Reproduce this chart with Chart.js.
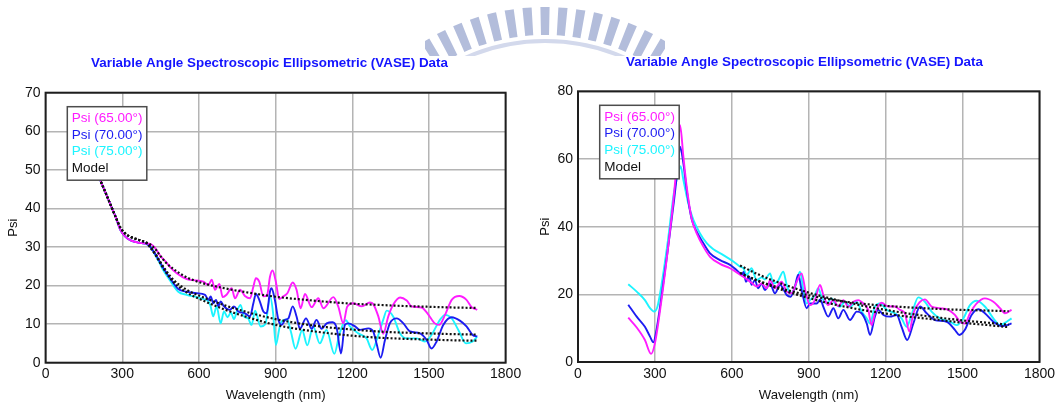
<!DOCTYPE html>
<html>
<head>
<meta charset="utf-8">
<script src="https://cdn.jsdelivr.net/npm/chart.js@4.4.1/dist/chart.umd.min.js"></script>
<style>
  html, body { margin: 0; padding: 0; background: #fff; }
  #page { position: relative; width: 1060px; height: 408px; overflow: hidden; }
  #page canvas { position: absolute; top: 0; }
</style>
</head>
<body>
<div id="page">
  <canvas id="seal" width="1060" height="408" style="left:0"></canvas>
  <canvas id="vaseA" width="530" height="408" style="left:0"></canvas>
  <canvas id="vaseB" width="530" height="408" style="left:530px"></canvas>
</div>
<script>
// ---- axis ticks ----
const wavelengthTicks = [0, 300, 600, 900, 1200, 1500, 1800];
const psiTicksA = [0, 10, 20, 30, 40, 50, 60, 70];
const psiTicksB = [0, 20, 40, 60, 80];

const seriesNames = ['Psi (65.00°)', 'Psi (70.00°)', 'Psi (75.00°)', 'Model'];

// ---- sample A: Psi vs wavelength (nm) ----
// below ~390 nm the three angles sit on top of each other
const aStartWl  = [200, 214, 230, 247, 260, 274, 293, 313, 333, 353, 375, 392];
const aStartPsi = [49.8, 47.3, 44.8, 42.1, 40.0, 37.8, 34.4, 32.6, 31.7, 31.3, 31.0, 30.9];

const a65Wl = aStartWl.concat([410, 430, 450, 470, 487, 513, 552, 591, 617, 637, 650, 663, 680, 693, 708, 728, 741, 761, 780, 800,
  813, 823, 836, 852, 867, 878, 888, 901, 914, 930, 946, 967, 982, 998, 1015, 1041, 1067, 1087, 1126, 1145,
  1165, 1180, 1204, 1237, 1269, 1282, 1302, 1321, 1341, 1360, 1387, 1413, 1432, 1471, 1494, 1523, 1540, 1563, 1589, 1619,
  1647, 1667, 1689]);
const a65Psi = aStartPsi.concat([30.8, 29.6, 27.6, 26.2, 24.8, 23.2, 21.7, 21.3, 21.0, 20.2, 21.5, 18.9, 20.4, 17.0, 17.6, 19.3, 16.7, 18.9, 17.3, 16.7,
  19.7, 21.9, 21.0, 17.2, 17.6, 22.3, 23.9, 21.0, 16.5, 17.2, 18.0, 20.8, 18.9, 14.1, 17.8, 14.4, 16.7, 14.1, 17.0, 14.6,
  10.2, 14.5, 15.4, 14.6, 15.6, 15.2, 12.0, 7.5, 12.0, 15.0, 16.9, 16.1, 14.6, 14.3, 12.8, 10.2, 9.8, 12.4, 16.3, 17.3,
  16.3, 14.4, 13.7]);

const a70Wl = aStartWl.concat([410, 425, 445, 460, 487, 519, 552, 591, 624, 637, 646, 656, 667, 676, 685, 698, 721, 737, 754, 780,
  800, 813, 823, 836, 852, 865, 878, 884, 897, 911, 924, 937, 950, 967, 982, 995, 1019, 1041, 1060, 1080,
  1100, 1123, 1139, 1156, 1171, 1184, 1211, 1230, 1263, 1282, 1295, 1311, 1328, 1347, 1374, 1400, 1426, 1465, 1491, 1510,
  1530, 1556, 1589, 1621, 1647, 1671, 1689]);
const a70Psi = aStartPsi.concat([30.0, 28.6, 26.4, 24.6, 21.9, 19.1, 18.4, 18.0, 17.6, 16.3, 17.2, 15.4, 16.3, 14.6, 15.9, 14.6, 13.7, 14.6, 13.3, 12.8,
  12.0, 15.4, 17.8, 16.3, 13.3, 12.8, 18.4, 19.3, 16.3, 11.1, 9.8, 11.1, 11.5, 14.6, 12.0, 8.8, 11.5, 8.8, 11.1, 8.8,
  10.2, 10.5, 9.0, 2.4, 9.8, 10.2, 9.4, 8.5, 8.9, 8.1, 5.0, 1.3, 5.9, 10.2, 11.5, 10.2, 8.1, 7.6, 5.9, 3.7,
  5.5, 9.8, 11.8, 10.9, 9.4, 7.2, 6.8]);

const a75Wl = aStartWl.concat([410, 425, 445, 460, 487, 519, 552, 591, 617, 637, 645, 656, 669, 685, 698, 712, 725, 737, 750, 763,
  776, 792, 806, 820, 841, 860, 879, 890, 901, 915, 924, 945, 960, 978, 1004, 1024, 1047, 1073, 1099, 1130,
  1150, 1175, 1191, 1224, 1256, 1278, 1302, 1321, 1335, 1360, 1387, 1413, 1452, 1484, 1510, 1543, 1563, 1589, 1615, 1645,
  1671, 1689]);
const a75Psi = aStartPsi.concat([30.0, 28.4, 26.0, 24.0, 21.3, 18.4, 17.6, 17.0, 16.5, 15.9, 14.8, 12.0, 14.6, 10.2, 13.3, 11.8, 13.0, 11.3, 13.6, 15.0,
  12.0, 11.5, 9.8, 13.5, 9.4, 10.0, 17.0, 13.0, 4.6, 9.0, 10.7, 11.2, 8.0, 3.6, 8.4, 4.5, 9.4, 5.0, 8.5, 2.3,
  7.5, 11.0, 9.4, 7.6, 6.3, 3.3, 7.2, 11.1, 13.5, 12.0, 7.6, 6.3, 6.3, 5.5, 7.2, 11.1, 12.4, 11.5, 8.5, 5.0,
  5.5, 6.8]);

const aModelWl = aStartWl.concat([410, 430, 450, 470, 500, 550, 600, 700, 800, 900, 1000, 1100, 1200, 1300, 1400, 1500, 1600, 1690]);
const aModelStart = [49.8, 47.3, 44.8, 42.1, 40.0, 37.8, 35.0, 33.4, 32.6, 32.1, 31.6, 31.2];
const aModel65 = aModelStart.concat([30.6, 29.4, 27.6, 26.0, 24.3, 22.2, 20.9, 19.3, 18.1, 17.1, 16.4, 15.8, 15.3, 15.0, 14.7, 14.5, 14.3, 14.2]);
const aModel70 = aModelStart.concat([30.0, 28.2, 26.0, 24.0, 21.5, 19.0, 17.4, 14.9, 12.9, 11.3, 10.1, 9.2, 8.6, 8.1, 7.8, 7.6, 7.4, 7.3]);
const aModel75 = aModelStart.concat([29.8, 27.9, 25.6, 23.5, 20.9, 18.3, 16.6, 13.8, 11.6, 9.8, 8.6, 7.7, 7.0, 6.5, 6.2, 6.0, 5.8, 5.7]);

// ---- sample B: Psi vs wavelength (nm) ----
const b65Wl = [196, 229, 261, 285, 300, 325, 350, 375, 390, 398, 411, 424, 443, 463, 489, 515, 554, 593, 625, 645,
  677, 697, 716, 736, 749, 768, 794, 814, 833, 853, 872, 889, 905, 924, 944, 957, 976, 996, 1015, 1035,
  1054, 1074, 1093, 1113, 1132, 1145, 1158, 1184, 1210, 1236, 1256, 1275, 1292, 1308, 1334, 1353, 1379, 1412, 1444, 1470,
  1490, 1509, 1529, 1555, 1587, 1620, 1646, 1665, 1691];
const b65Psi = [13.1, 10.2, 6.5, 2.4, 5.5, 18.0, 33.0, 50.0, 63.0, 70.0, 60.7, 51.8, 42.5, 38.0, 34.1, 31.1, 29.0, 27.7, 26.2, 25.2,
  23.4, 22.3, 23.2, 21.8, 24.2, 21.8, 23.7, 20.8, 20.3, 23.7, 26.2, 20.3, 16.8, 18.3, 22.8, 19.8, 16.8, 18.3, 16.5, 18.3,
  16.3, 17.8, 18.3, 17.3, 15.4, 10.9, 14.4, 17.5, 16.4, 16.4, 15.4, 14.4, 9.0, 14.4, 17.8, 18.5, 16.4, 15.9, 15.4, 13.9,
  11.9, 11.4, 14.4, 17.3, 18.8, 17.8, 15.9, 14.4, 15.4];

const b70Wl = [196, 229, 261, 281, 294, 305, 325, 350, 375, 390, 398, 411, 424, 443, 463, 489, 515, 554, 593, 625,
  638, 646, 655, 668, 677, 690, 703, 716, 729, 749, 768, 788, 814, 829, 846, 859, 872, 892, 905, 931,
  945, 957, 976, 996, 1015, 1035, 1061, 1087, 1106, 1126, 1139, 1158, 1171, 1191, 1217, 1243, 1262, 1284, 1308, 1334,
  1360, 1392, 1438, 1470, 1487, 1509, 1535, 1561, 1587, 1620, 1652, 1672, 1691];
const b70Psi = [16.9, 13.4, 10.4, 7.5, 5.8, 9.0, 19.0, 33.0, 48.0, 58.0, 63.6, 58.7, 50.8, 42.3, 38.5, 35.1, 32.1, 30.1, 28.7, 26.7,
  25.7, 26.6, 23.7, 25.2, 22.8, 24.2, 21.8, 23.2, 21.3, 23.2, 20.3, 22.8, 19.8, 19.3, 22.3, 25.8, 21.3, 15.9, 17.3, 17.3,
  18.5, 16.3, 13.4, 15.9, 12.9, 15.4, 12.4, 14.9, 14.4, 11.4, 8.0, 13.4, 15.4, 13.9, 13.4, 13.9, 10.4, 6.5, 11.4, 16.4,
  14.4, 12.4, 11.9, 9.5, 8.0, 9.5, 13.9, 15.6, 14.4, 11.9, 10.6, 10.9, 11.4];

const b75Wl = [196, 229, 261, 281, 297, 310, 325, 350, 375, 390, 400, 411, 430, 450, 476, 502, 528, 567, 606, 632,
  645, 658, 677, 697, 716, 729, 749, 762, 780, 801, 814, 829, 846, 866, 879, 892, 905, 924, 937, 950,
  970, 989, 1002, 1022, 1041, 1061, 1087, 1106, 1126, 1139, 1158, 1178, 1204, 1236, 1262, 1282, 1301, 1327, 1353, 1379,
  1412, 1451, 1477, 1503, 1529, 1555, 1587, 1620, 1646, 1672, 1691];
const b75Psi = [23.0, 20.8, 18.3, 15.9, 14.9, 16.4, 22.5, 35.5, 50.5, 55.5, 57.9, 53.8, 46.9, 42.0, 38.0, 35.1, 33.3, 31.6, 29.7, 28.2,
  27.7, 25.7, 27.7, 24.2, 25.0, 24.4, 26.2, 23.2, 24.0, 26.7, 22.8, 20.3, 22.0, 26.7, 21.3, 17.3, 18.3, 19.8, 21.8, 19.3,
  17.3, 18.8, 17.3, 16.3, 17.8, 16.3, 17.8, 14.9, 12.9, 11.4, 16.4, 17.3, 15.4, 14.4, 12.9, 10.4, 13.9, 19.1, 17.8, 14.9,
  12.9, 11.9, 10.9, 12.9, 16.8, 18.1, 16.4, 12.9, 10.9, 11.9, 12.9];

const bModelWl = [632, 700, 800, 900, 1000, 1100, 1200, 1300, 1400, 1500, 1600, 1680];
const bModel65 = [26.3, 24.1, 21.6, 19.7, 18.3, 17.3, 16.6, 16.1, 15.7, 15.4, 15.2, 15.0];
const bModel70 = [26.3, 24.0, 21.2, 18.9, 17.0, 15.5, 14.3, 13.3, 12.5, 11.6, 10.9, 10.3];
const bModel75 = [28.5, 26.0, 23.0, 20.5, 18.5, 16.8, 15.4, 14.2, 13.2, 12.3, 11.6, 11.0];

// ---- styling ----
const FONT = '"Liberation Sans", Arial, sans-serif';
const W = 530, H = 408;
const TITLE_SIZE = 13.4;
const colors = { m65: '#ff1cff', m70: '#1c1cf2', m75: '#1cf4ff', model: '#111111' };
Chart.defaults.font.family = FONT;

function trace(label, color, wl, psi, dotted) {
  return {
    label: label,
    data: wl.map(function (x, i) { return { x: x, y: psi[i] }; }),
    borderColor: color,
    borderWidth: dotted ? 2.2 : 1.9,
    borderDash: dotted ? [2, 2] : [],
    pointRadius: 0,
    cubicInterpolationMode: 'monotone',
    fill: false,
    order: dotted ? 0 : 1
  };
}

// black box round the plotting area
const plotFrame = {
  id: 'plotFrame',
  afterDatasetsDraw(chart) {
    const a = chart.chartArea, ctx = chart.ctx;
    ctx.save();
    ctx.strokeStyle = '#1e1e1e';
    ctx.lineWidth = 2;
    ctx.strokeRect(a.left, a.top, a.right - a.left, a.bottom - a.top);
    ctx.restore();
  }
};

// boxed key in the upper left corner, one line per distinct label
const seriesKey = {
  id: 'seriesKey',
  afterDraw(chart) {
    const ctx = chart.ctx, a = chart.chartArea;
    const entries = [];
    chart.data.datasets.forEach(function (ds) {
      if (!entries.some(function (e) { return e.text === ds.label; })) {
        entries.push({ text: ds.label, color: ds.borderColor });
      }
    });
    const x = a.left + 21.7, y = a.top + 14, w = 79.5, h = 73.5;
    ctx.save();
    ctx.fillStyle = '#ffffff';
    ctx.fillRect(x, y, w, h);
    ctx.strokeStyle = '#4d4d4d';
    ctx.lineWidth = 1.5;
    ctx.strokeRect(x, y, w, h);
    ctx.font = '13.5px ' + FONT;
    ctx.textBaseline = 'middle';
    entries.forEach(function (e, i) {
      ctx.fillStyle = e.color;
      ctx.fillText(e.text, x + 4.5, y + 11.6 + i * 16.7);
    });
    ctx.restore();
  }
};

function buildPanel(canvasId, box, psiMax, psiTicks, datasets) {
  // an empty right-hand axis holds the right margin, so the heading
  // (centred over the full-width title box) lands where it should
  const spacer = W - box.right;
  const padLeft = 2 * box.titleX - W;
  const titleHalf = TITLE_SIZE * 1.2 / 2;
  return new Chart(document.getElementById(canvasId), {
    type: 'line',
    data: { datasets: datasets },
    options: {
      responsive: false,
      animation: false,
      layout: { padding: { left: padLeft, right: 0, top: 0, bottom: 0 } },
      plugins: {
        legend: { display: false },
        tooltip: { enabled: false },
        title: {
          display: true,
          text: 'Variable Angle Spectroscopic Ellipsometric (VASE) Data',
          color: '#1414ff',
          font: { family: FONT, size: TITLE_SIZE, weight: 'bold', lineHeight: 1.2 },
          padding: { top: box.titleY - titleHalf, bottom: box.top - box.titleY - titleHalf }
        }
      },
      scales: {
        x: {
          type: 'linear',
          min: 0,
          max: 1800,
          afterBuildTicks: function (s) { s.ticks = wavelengthTicks.map(function (v) { return { value: v }; }); },
          afterFit: function (s) { s.height = H - box.bottom; },
          grid: { color: '#b4b4b4', lineWidth: 1.5, drawTicks: false },
          border: { display: false },
          ticks: { padding: 3.5, color: '#111', font: { size: 14 }, maxRotation: 0, callback: function (v) { return String(v); } },
          title: { display: true, text: 'Wavelength (nm)', color: '#111', font: { size: 13.2 }, padding: { top: 0, bottom: 5 } }
        },
        y: {
          type: 'linear',
          min: 0,
          max: psiMax,
          afterBuildTicks: function (s) { s.ticks = psiTicks.map(function (v) { return { value: v }; }); },
          afterFit: function (s) { s.width = box.left - padLeft; },
          grid: { color: '#b4b4b4', lineWidth: 1.5, drawTicks: false },
          border: { display: false },
          ticks: { padding: 5, color: '#111', font: { size: 14 }, callback: function (v) { return String(v); } },
          title: { display: true, text: 'Psi', color: '#111', font: { size: 13.2 }, padding: { top: box.psiTitleX - padLeft - 7.9, bottom: 0 } }
        },
        margin: {
          type: 'linear',
          position: 'right',
          afterFit: function (s) { s.width = spacer; },
          grid: { display: false, drawTicks: false },
          border: { display: false },
          ticks: { display: false }
        }
      }
    },
    plugins: [plotFrame, seriesKey]
  });
}

buildPanel('vaseA',
  { left: 45.6, right: 505.6, top: 92.7, bottom: 362.7, titleX: 269.5, titleY: 63.5, psiTitleX: 13.3 },
  70, psiTicksA, [
    trace(seriesNames[0], colors.m65, a65Wl, a65Psi, false),
    trace(seriesNames[1], colors.m70, a70Wl, a70Psi, false),
    trace(seriesNames[2], colors.m75, a75Wl, a75Psi, false),
    trace(seriesNames[3], colors.model, aModelWl, aModel65, true),
    trace(seriesNames[3], colors.model, aModelWl, aModel70, true),
    trace(seriesNames[3], colors.model, aModelWl, aModel75, true)
  ]);

buildPanel('vaseB',
  { left: 48, right: 509.5, top: 91.3, bottom: 362, titleX: 274.5, titleY: 62.7, psiTitleX: 15 },
  80, psiTicksB, [
    trace(seriesNames[0], colors.m65, b65Wl, b65Psi, false),
    trace(seriesNames[1], colors.m70, b70Wl, b70Psi, false),
    trace(seriesNames[2], colors.m75, b75Wl, b75Psi, false),
    trace(seriesNames[3], colors.model, bModelWl, bModel65, true),
    trace(seriesNames[3], colors.model, bModelWl, bModel70, true),
    trace(seriesNames[3], colors.model, bModelWl, bModel75, true)
  ]);

// faint seal at the top centre of the page, cut off where the panels start
function drawSeal() {
  const ctx = document.getElementById('seal').getContext('2d');
  const cx = 545, cy = 236;
  ctx.save();
  ctx.beginPath();
  ctx.rect(425, 0, 240, 56);
  ctx.clip();
  ctx.fillStyle = '#b3bddb';
  for (let deg = -36; deg <= 36.1; deg += 4.5) {
    const mid = (deg - 90) * Math.PI / 180, half = 1.15 * Math.PI / 180;
    ctx.beginPath();
    ctx.arc(cx, cy, 229, mid - half, mid + half);
    ctx.arc(cx, cy, 201, mid + half, mid - half, true);
    ctx.closePath();
    ctx.fill();
  }
  ctx.strokeStyle = '#d3d9ec';
  ctx.lineWidth = 4;
  ctx.beginPath();
  ctx.arc(cx, cy, 195, -Math.PI / 2 - 0.62, -Math.PI / 2 + 0.62);
  ctx.stroke();
  ctx.restore();
}
drawSeal();
</script>
</body>
</html>
